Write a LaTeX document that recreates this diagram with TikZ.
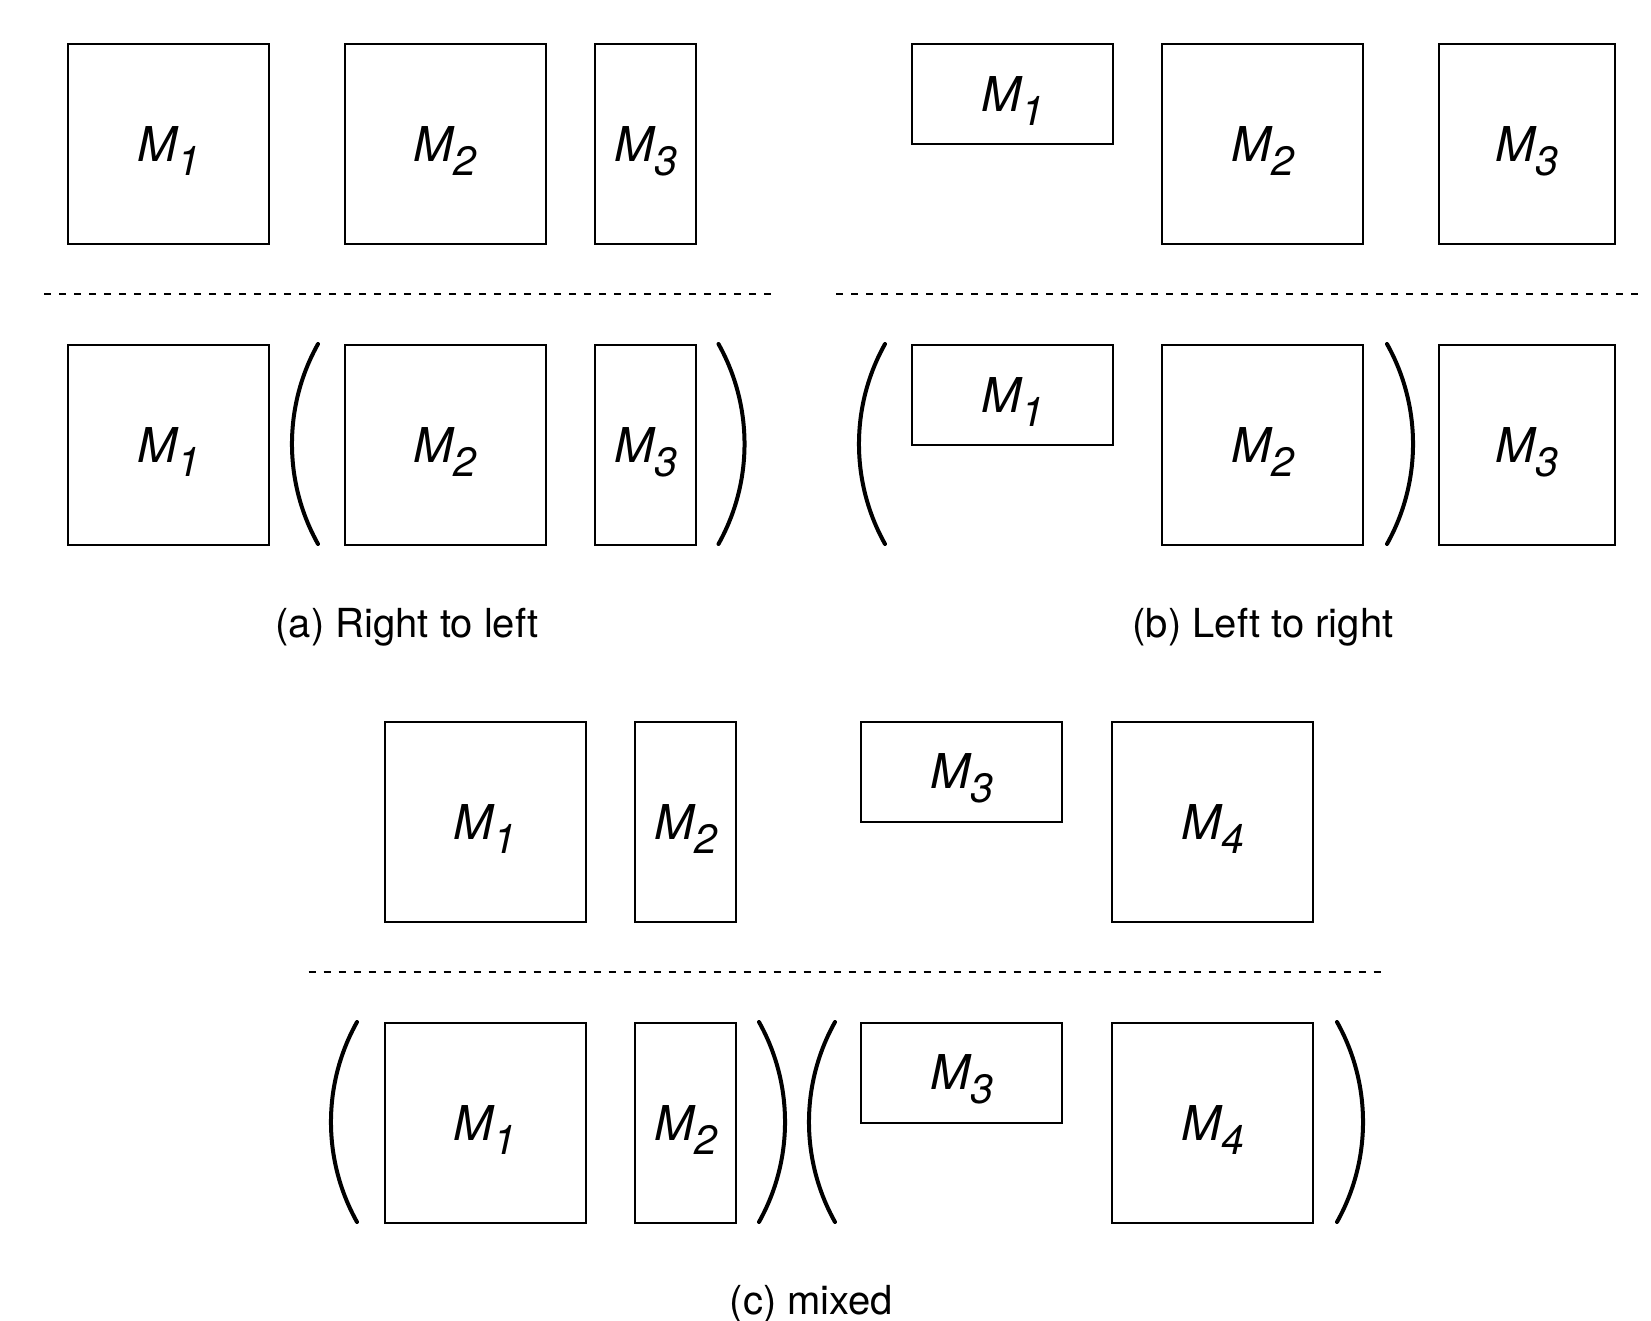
\documentclass[tikz,border=0pt]{standalone}
\usepackage{fontspec}
\setmainfont{TeX Gyre Heros}
\newcommand\mlab[1]{{\fontsize{24pt}{26pt}\selectfont\rule{0pt}{24.5pt}\itshape M\raisebox{-7pt}{\fontsize{20.5pt}{22pt}\selectfont #1}}}
\newcommand\lbrk[3]{\draw[brk] (#1,#2) .. controls ({#1-34.7},{#2+62}) and ({#1-34.7},{#3-62}) .. (#1,#3);}
\newcommand\rbrk[3]{\draw[brk] (#1,#2) .. controls ({#1+34.7},{#2+62}) and ({#1+34.7},{#3-62}) .. (#1,#3);}
\tikzset{
  mbox/.style={draw, line width=1pt, inner sep=0pt, minimum width=100.5pt, minimum height=100pt},
  thinbox/.style={mbox, minimum width=50.5pt},
  widebox/.style={mbox, minimum height=50pt},
  sepline/.style={dash pattern=on 3.5pt off 4pt, line width=1pt},
  brk/.style={line width=2pt, line cap=round},
  capt/.style={anchor=base, inner sep=0pt, font=\fontsize{20pt}{22pt}\selectfont},
}
\begin{document}
\begin{tikzpicture}[x=0.5pt, y=-0.5pt]
\useasboundingbox (0,0) rectangle (1651,1321);
% (a) Right to left
\node[mbox] (a1) at (168.5,144) {\mlab{1}};
\node[mbox] (a2) at (445,144) {\mlab{2}};
\node[thinbox] (a3) at (645.5,144) {\mlab{3}};
\draw[sepline] (44,294.5) -- (772,294.5);
\node[mbox] (ab1) at (168.5,445) {\mlab{1}};
\node[mbox] (ab2) at (445,445) {\mlab{2}};
\node[thinbox] (ab3) at (645.5,445) {\mlab{3}};
\lbrk{318}{344}{544}
\rbrk{718.5}{344}{544}
\node[capt] (capa) at (407,637) {(a) Right to left};
% (b) Left to right
\node[widebox] (b1) at (1012.5,94) {\mlab{1}};
\node[mbox] (b2) at (1262.5,144) {\mlab{2}};
\node[mbox, minimum width=88pt] (b3) at (1526.5,144) {\mlab{3}};
\draw[sepline] (836,294.5) -- (1640,294.5);
\node[widebox] (bb1) at (1012.5,395) {\mlab{1}};
\node[mbox] (bb2) at (1262.5,445) {\mlab{2}};
\node[mbox, minimum width=88pt] (bb3) at (1526.5,445) {\mlab{3}};
\lbrk{885}{344}{544}
\rbrk{1387}{344}{544}
\node[capt] (capb) at (1263,637) {(b) Left to right};
% (c) mixed
\node[mbox] (c1) at (485,821.5) {\mlab{1}};
\node[thinbox] (c2) at (685.7,821.5) {\mlab{2}};
\node[widebox] (c3) at (961.7,771.5) {\mlab{3}};
\node[mbox] (c4) at (1212.5,821.5) {\mlab{4}};
\draw[sepline] (308.5,971.5) -- (1386,971.5);
\node[mbox] (cb1) at (485,1122.5) {\mlab{1}};
\node[thinbox] (cb2) at (685.7,1122.5) {\mlab{2}};
\node[widebox] (cb3) at (961.7,1072.5) {\mlab{3}};
\node[mbox] (cb4) at (1212.5,1122.5) {\mlab{4}};
\lbrk{357}{1022}{1222}
\rbrk{759}{1022}{1222}
\lbrk{835}{1022}{1222}
\rbrk{1337}{1022}{1222}
\node[capt] (capc) at (811.5,1314) {(c) mixed};
\end{tikzpicture}
\end{document}
